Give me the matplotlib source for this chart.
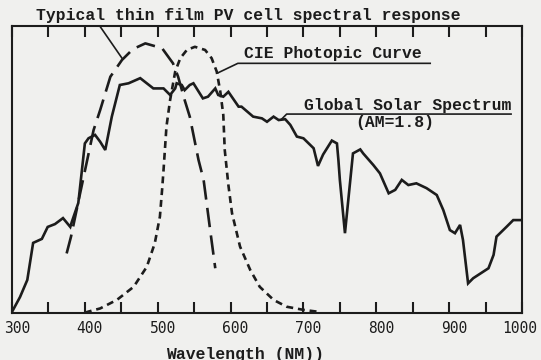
import matplotlib
matplotlib.use("Agg")
import matplotlib.pyplot as plt
import matplotlib.transforms as mtransforms

plt.rcParams['font.family'] = ['Liberation Mono', 'DejaVu Sans Mono']
plt.rcParams['lines.scale_dashes'] = False

# values, y in relative units (0 = baseline, top border ~100.7)
solar_wl = [300, 311, 321, 329, 341, 349, 359, 370, 380, 382, 391, 393, 400, 405, 414, 421,
            428, 437, 448, 460, 476, 494, 508, 517, 524, 526, 533, 537, 544, 549, 562, 569,
            579, 583, 590, 597, 611, 615, 631, 643, 650, 659, 666, 675, 682, 691, 700, 714,
            720, 727, 739, 746, 748, 750, 757, 768, 778, 782, 796, 805, 817, 826, 835, 844,
            855, 869, 883, 892, 901, 908, 915, 919, 926, 933, 954, 961, 965, 979, 988, 1000]
solar_val = [0.4, 5.6, 11.6, 24.6, 26.0, 30.2, 31.2, 33.3, 30.2, 31.9, 38.6, 43.2, 59.5, 61.3, 62.5, 60.1,
             57.2, 68.9, 80.0, 80.6, 82.4, 78.8, 78.8, 76.5, 78.8, 80.6, 80.0, 78.2, 80.0, 80.6, 75.3, 75.9,
             78.8, 76.5, 75.9, 77.6, 72.4, 72.4, 68.9, 68.3, 67.1, 68.9, 67.7, 68.0, 66.0, 61.9, 61.3, 57.8,
             51.6, 55.6, 60.5, 59.5, 53.7, 46.7, 28.0, 56.0, 57.4, 56.0, 51.9, 49.0, 42.0, 43.2, 46.7, 44.9,
             45.5, 43.8, 41.4, 36.1, 29.1, 28.0, 30.9, 25.6, 10.4, 12.2, 15.7, 20.4, 26.8, 30.3, 32.6, 32.6]

pv_wl = [375, 381, 393, 412, 421, 435, 451, 466, 483, 506, 521, 528, 537, 544, 556, 563, 572, 579]
pv_val = [20.9, 26.8, 41.4, 64.2, 71.2, 82.9, 88.8, 92.6, 94.6, 92.9, 87.6, 82.9, 74.7, 68.9, 53.7, 46.7, 29.1, 15.7]

cie_wl = [400, 405, 421, 444, 467, 485, 496, 503, 506, 508, 512, 517, 524, 531, 540, 551,
          565, 574, 581, 586, 590, 592, 597, 602, 613, 627, 640, 659, 677, 700, 718]
cie_val = [0.1, 0.5, 1.6, 4.6, 9.2, 16.2, 24.5, 33.8, 43.2, 50.2, 65.4, 74.7, 84.7, 89.4, 92.3, 93.4,
           92.3, 89.4, 84.7, 77.5, 69.5, 57.2, 44.9, 35.0, 23.3, 15.1, 9.2, 4.6, 2.2, 1.1, 0.5]

label_ticks = [300, 400, 500, 600, 700, 800, 900, 1000]
half_ticks = [350, 450, 550, 650, 750, 850, 950]

ink = '#1c1c1c'
paper = '#f0f0ee'

fig = plt.figure(figsize=(5.41, 3.6), dpi=100, facecolor=paper)
ax = fig.add_axes([12/541, 47/360, 510/541, 287/360], facecolor=paper)

ax.plot(solar_wl, solar_val, color=ink, lw=1.9, solid_joinstyle='miter')
ax.plot(pv_wl, pv_val, color=ink, lw=1.9, dashes=(14, 6))
ax.plot(cie_wl, cie_val, color=ink, lw=1.9, dashes=(5, 3.5))

ax.set_xlim(300, 1000)
ax.set_ylim(0, 100.7)
ax.set_xticks(label_ticks)
ax.set_xticks(half_ticks, minor=True)
ax.set_yticks([])
ax.tick_params(axis='x', which='both', direction='in', top=True, length=8, width=1.5,
               color=ink, labelcolor=ink, labelsize=10.5, pad=6)
for s in ax.spines.values():
    s.set_linewidth(1.5)
    s.set_color(ink)

# typed labels sit a bit right of their ticks (last one stays inside the page)
for lab in ax.get_xticklabels():
    lab.set_fontfamily('DejaVu Sans Mono')
    dx = -2 if lab.get_text() == '1000' else 5
    lab.set_transform(lab.get_transform() +
                      mtransforms.ScaledTranslation(dx/100, 0, fig.dpi_scale_trans))

fs = 11.8
kw = dict(fontsize=fs, color=ink, fontweight='bold')
# annotations
ax.text(333, 102.8, "Typical thin film PV cell spectral response", ha='left', va='baseline',
        clip_on=False, **kw)
ax.plot([421, 451], [100.5, 89.4], color=ink, lw=1.2, clip_on=False)

ax.text(618, 89.5, "CIE Photopic Curve", ha='left', va='baseline', **kw)
ax.plot([874, 610, 583], [87.6, 87.6, 84.3], color=ink, lw=1.2)

ax.text(701, 71.2, "Global Solar Spectrum", ha='left', va='baseline', **kw)
ax.plot([985, 677, 670], [69.8, 69.8, 68.0], color=ink, lw=1.2)
ax.text(771, 66.7, "(AM=1.8)", ha='left', va='center', **kw)

fig.text(245/541, 1 - 354/360, "Wavelength (NM))", ha='center', va='center', **kw)

fig.savefig("out.png", dpi=100, facecolor=paper)
